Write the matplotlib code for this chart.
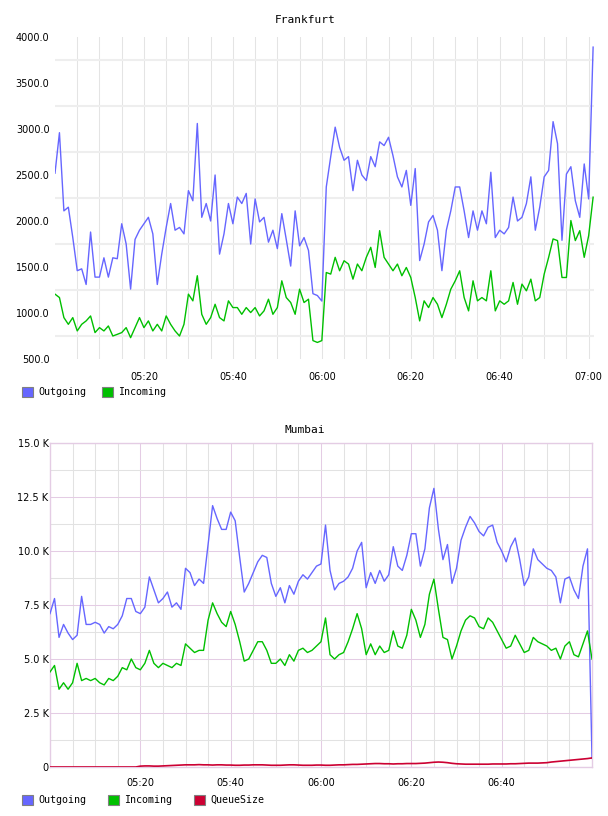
import matplotlib
matplotlib.use('Agg')
import matplotlib.pyplot as plt
from matplotlib.patches import Patch

# Frankfurt: one value per minute starting 05:00
fra_minutes = list(range(122))
fra_outgoing = [
    2520, 2960, 2110, 2150, 1820, 1460, 1480, 1310, 1880, 1390,
    1390, 1600, 1390, 1600, 1590, 1970, 1750, 1260, 1800, 1900,
    1970, 2040, 1860, 1310, 1640, 1930, 2190, 1900, 1930, 1860,
    2330, 2220, 3060, 2040, 2190, 2000, 2500, 1640, 1860, 2190,
    1970, 2260, 2190, 2300, 1750, 2240, 1990, 2040, 1770, 1900,
    1700, 2080, 1800, 1510, 2110, 1730, 1820, 1680, 1210, 1190,
    1130, 2370, 2700, 3020, 2800, 2660, 2700, 2330, 2660, 2500,
    2440, 2700, 2590, 2860, 2820, 2910, 2710, 2480, 2370, 2550,
    2170, 2570, 1570, 1750, 1990, 2060, 1900, 1460, 1900, 2110,
    2370, 2370, 2110, 1820, 2110, 1900, 2110, 1970, 2530, 1820,
    1900, 1860, 1930, 2260, 2000, 2040, 2190, 2480, 1900, 2150,
    2480, 2550, 3080, 2840, 1790, 2510, 2590, 2220, 2040, 2620,
    2240, 3890,
]
fra_incoming = [
    1205, 1168, 950, 877, 950, 805, 877, 914, 968, 787,
    841, 805, 859, 750, 768, 787, 841, 732, 841, 950,
    841, 914, 805, 877, 805, 968, 877, 805, 750, 877,
    1205, 1132, 1405, 986, 877, 950, 1095, 950, 914, 1132,
    1059, 1059, 986, 1059, 1005, 1059, 968, 1023, 1150, 986,
    1059, 1350, 1168, 1114, 986, 1259, 1114, 1150, 700, 680,
    700, 1440, 1423, 1605, 1459, 1568, 1532, 1368, 1532, 1459,
    1605, 1714, 1495, 1895, 1605, 1532, 1459, 1532, 1405, 1495,
    1386, 1168, 914, 1132, 1059, 1168, 1095, 950, 1095, 1259,
    1350, 1459, 1168, 1023, 1350, 1132, 1168, 1132, 1459, 1023,
    1132, 1095, 1132, 1332, 1095, 1314, 1241, 1368, 1132, 1168,
    1423, 1605, 1805, 1787, 1386, 1386, 2005, 1787, 1895, 1605,
    1841, 2259,
]

# Mumbai: values in thousands, one per minute starting 05:00
mum_minutes = list(range(121))
mum_outgoing_k = [
    7.1, 7.8, 6.0, 6.6, 6.2, 5.9, 6.1, 7.9, 6.6, 6.6,
    6.7, 6.6, 6.2, 6.5, 6.4, 6.6, 7.0, 7.8, 7.8, 7.2,
    7.1, 7.4, 8.8, 8.2, 7.6, 7.8, 8.1, 7.4, 7.6, 7.3,
    9.2, 9.0, 8.4, 8.7, 8.5, 10.3, 12.1, 11.5, 11.0, 11.0,
    11.8, 11.4, 9.7, 8.1, 8.5, 9.0, 9.5, 9.8, 9.7, 8.5,
    7.9, 8.3, 7.6, 8.4, 8.0, 8.6, 8.9, 8.7, 9.0, 9.3,
    9.4, 11.2, 9.1, 8.2, 8.5, 8.6, 8.8, 9.2, 10.0, 10.4,
    8.3, 9.0, 8.5, 9.1, 8.6, 8.9, 10.2, 9.3, 9.1, 9.8,
    10.8, 10.8, 9.3, 10.1, 12.0, 12.9, 11.0, 9.6, 10.3, 8.5,
    9.2, 10.5, 11.1, 11.6, 11.3, 10.9, 10.7, 11.1, 11.2, 10.4,
    10.0, 9.5, 10.2, 10.6, 9.6, 8.4, 8.8, 10.1, 9.6, 9.4,
    9.2, 9.1, 8.8, 7.6, 8.7, 8.8, 8.2, 7.8, 9.3, 10.1,
    0.4,
]
mum_incoming_k = [
    4.4, 4.7, 3.6, 3.9, 3.6, 3.9, 4.8, 4.0, 4.1, 4.0,
    4.1, 3.9, 3.8, 4.1, 4.0, 4.2, 4.6, 4.5, 5.0, 4.6,
    4.5, 4.8, 5.4, 4.8, 4.6, 4.8, 4.7, 4.6, 4.8, 4.7,
    5.7, 5.5, 5.3, 5.4, 5.4, 6.8, 7.6, 7.1, 6.7, 6.5,
    7.2, 6.6, 5.8, 4.9, 5.0, 5.4, 5.8, 5.8, 5.4, 4.8,
    4.8, 5.0, 4.7, 5.2, 4.9, 5.4, 5.5, 5.3, 5.4, 5.6,
    5.8, 6.9, 5.2, 5.0, 5.2, 5.3, 5.8, 6.4, 7.1, 6.4,
    5.2, 5.7, 5.2, 5.6, 5.3, 5.4, 6.3, 5.6, 5.5, 6.1,
    7.3, 6.8, 6.0, 6.6, 8.0, 8.7, 7.3, 6.0, 5.9, 5.0,
    5.6, 6.3, 6.8, 7.0, 6.9, 6.5, 6.4, 6.9, 6.7, 6.3,
    5.9, 5.5, 5.6, 6.1, 5.7, 5.3, 5.4, 6.0, 5.8, 5.7,
    5.6, 5.4, 5.5, 5.0, 5.6, 5.8, 5.2, 5.1, 5.7, 6.3,
    5.0,
]
mum_queue_k = [
    0.0, 0.0, 0.0, 0.0, 0.0, 0.0, 0.0, 0.0, 0.0, 0.0,
    0.0, 0.0, 0.0, 0.0, 0.0, 0.0, 0.0, 0.0, 0.0, 0.0,
    0.04, 0.05, 0.05, 0.04, 0.04, 0.05,
    0.06, 0.07, 0.08, 0.09, 0.10, 0.10, 0.10, 0.11, 0.10, 0.10,
    0.09, 0.10, 0.10, 0.09, 0.09,
    0.08, 0.08, 0.09, 0.09, 0.10, 0.10, 0.10, 0.09, 0.08, 0.08,
    0.08, 0.09, 0.10, 0.10, 0.09, 0.08, 0.08, 0.08, 0.09, 0.09,
    0.08, 0.08, 0.09, 0.10, 0.10, 0.11, 0.12, 0.12, 0.13, 0.14,
    0.15, 0.16, 0.16, 0.15, 0.15,
    0.14, 0.15, 0.15, 0.16, 0.16, 0.16, 0.17, 0.18, 0.20, 0.22,
    0.23, 0.22, 0.20, 0.17, 0.15, 0.14, 0.13, 0.13, 0.13, 0.13,
    0.13, 0.13, 0.14, 0.14, 0.14,
    0.14, 0.15, 0.15, 0.16, 0.17, 0.18, 0.18, 0.18, 0.19, 0.20,
    0.23, 0.25, 0.27, 0.29, 0.31, 0.33, 0.35, 0.37, 0.39, 0.42,
]

time_ticks = [20, 40, 60, 80, 100, 120]
time_labels = ['05:20', '05:40', '06:00', '06:20', '06:40', '07:00']
fra_yticks = [500, 1000, 1500, 2000, 2500, 3000, 3500, 4000]
mum_yticks = [0, 2500, 5000, 7500, 10000, 12500, 15000]
mum_ylabels = ['0', '2.5 K', '5.0 K', '7.5 K', '10.0 K', '12.5 K', '15.0 K']

c_out = '#6666ff'
c_in = '#00c000'
c_queue = '#cc0033'
mono = 'DejaVu Sans Mono'
pink = '#e4cce4'

W, H = 608, 816
fig = plt.figure(figsize=(W / 100, H / 100), dpi=100)


def box(l, t, r, b):
    return [l / W, 1 - b / H, (r - l) / W, (b - t) / H]


# ---- Frankfurt
ax1 = fig.add_axes(box(55, 37, 594, 359))
ax1.plot(fra_minutes, fra_outgoing, color=c_out, lw=1.0, zorder=3)
ax1.plot(fra_minutes, fra_incoming, color=c_in, lw=1.0, zorder=3)
ax1.set_xlim(0, 121.2)
ax1.set_ylim(500, 4000)
ax1.set_xticks(time_ticks, time_labels)
ax1.set_xticks(range(5, 125, 5), minor=True)
ax1.set_yticks(fra_yticks, ['%.1f' % v for v in fra_yticks])
ax1.set_yticks(range(750, 4000, 500), minor=True)
ax1.grid(which='both', axis='x', color='#e4e4e4', lw=0.75, zorder=0)
ax1.grid(which='minor', axis='y', color='#eeeeee', lw=1.5, zorder=0)
ax1.tick_params(which='both', length=0, labelsize=7)
ax1.tick_params(axis='x', pad=9)
ax1.tick_params(axis='y', pad=4)
for s in ax1.spines.values():
    s.set_visible(False)

fig.text(305 / W, 1 - 20 / H, 'Frankfurt', family=mono, fontsize=8,
         ha='center', va='center')
fig.legend(handles=[Patch(facecolor=c_out, edgecolor='#808080', lw=0.8, label='Outgoing'),
                    Patch(facecolor=c_in, edgecolor='#808080', lw=0.8, label='Incoming')],
           loc='center left', bbox_to_anchor=(22 / W, 1 - 392 / H), ncol=2,
           frameon=False, prop={'family': mono, 'size': 7.2},
           handlelength=1.1, handleheight=1.1, handletextpad=0.5,
           columnspacing=1.6, borderpad=0, borderaxespad=0)

# ---- Mumbai
ax2 = fig.add_axes(box(50, 443, 592, 767))
ax2.plot(mum_minutes, [v * 1000 for v in mum_outgoing_k], color=c_out, lw=1.0, zorder=3)
ax2.plot(mum_minutes, [v * 1000 for v in mum_incoming_k], color=c_in, lw=1.0, zorder=3)
ax2.plot(mum_minutes, [v * 1000 for v in mum_queue_k], color=c_queue, lw=1.2, zorder=4)
ax2.set_xlim(0, 120)
ax2.set_ylim(0, 15000)
ax2.set_xticks(time_ticks[:-1], time_labels[:-1])
ax2.set_xticks(range(5, 120, 5), minor=True)
ax2.set_yticks(mum_yticks, mum_ylabels)
ax2.set_yticks(range(1250, 15000, 2500), minor=True)
ax2.grid(which='major', color=pink, lw=0.75, zorder=1)
ax2.grid(which='minor', color='#e2e2e2', lw=0.75, zorder=0)
ax2.tick_params(which='both', length=0, labelsize=7)
ax2.tick_params(axis='x', pad=8)
ax2.tick_params(axis='y', pad=1)
for s in ax2.spines.values():
    s.set_color(pink)
    s.set_linewidth(1.0)

fig.text(305 / W, 1 - 430 / H, 'Mumbai', family=mono, fontsize=8,
         ha='center', va='center')
fig.legend(handles=[Patch(facecolor=c_out, edgecolor='#808080', lw=0.8, label='Outgoing'),
                    Patch(facecolor=c_in, edgecolor='#808080', lw=0.8, label='Incoming'),
                    Patch(facecolor=c_queue, edgecolor='#808080', lw=0.8, label='QueueSize')],
           loc='center left', bbox_to_anchor=(22 / W, 1 - 800 / H), ncol=3,
           frameon=False, prop={'family': mono, 'size': 7.2},
           handlelength=1.1, handleheight=1.1, handletextpad=0.5,
           columnspacing=2.2, borderpad=0, borderaxespad=0)

fig.savefig('out.png', dpi=100)
